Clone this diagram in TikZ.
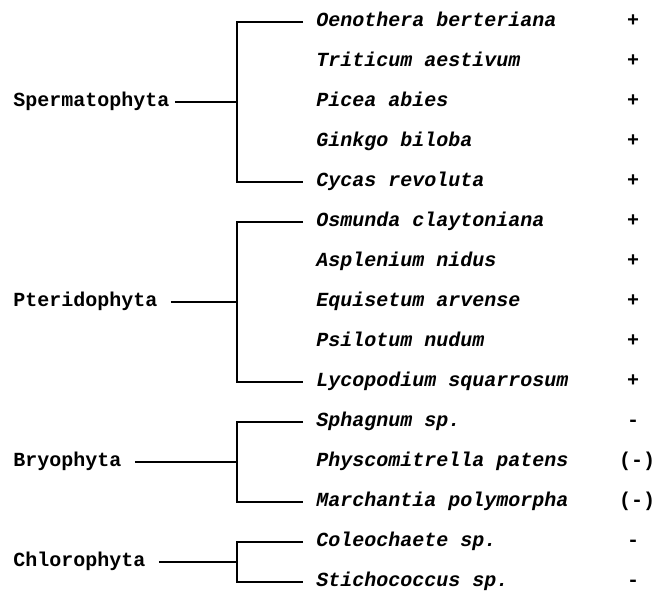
\documentclass[tikz,border=0pt]{standalone}
\usepackage{fontspec}
\setmonofont{Liberation Mono}
\usepackage{tikz}

\begin{document}
\begin{tikzpicture}[x=0.5pt,y=-0.5pt,
  every node/.style={font=\ttfamily\bfseries\fontsize{10}{12}\selectfont},
  taxon/.style={anchor=west,text height=1ex,text depth=0pt,inner xsep=6.5pt,inner ysep=0pt},
  species/.style={taxon,font=\ttfamily\bfseries\itshape\fontsize{10}{12}\selectfont},
  sign/.style={text height=1ex,text depth=0pt,inner sep=0pt},
  branch/.style={line width=0.9pt}]
\useasboundingbox (0,0) rectangle (667,590);
% groups
\node[taxon] (sperm) at (0,102) {Spermatophyta};
\node[taxon] (pterid) at (0,302) {Pteridophyta};
\node[taxon] (bryo) at (0,462) {Bryophyta};
\node[taxon] (chloro) at (0,562) {Chlorophyta};
\coordinate (spermJoin) at (237,102);
\coordinate (pteridJoin) at (237,302);
\coordinate (bryoJoin) at (237,462);
\coordinate (chloroJoin) at (237,562);
% species and signs
\node[species] (sp1) at (303,22) {Oenothera berteriana};   \node[sign] (s1) at (633,22) {+};
\node[species] (sp2) at (303,62) {Triticum aestivum};      \node[sign] (s2) at (633,62) {+};
\node[species] (sp3) at (303,102) {Picea abies};           \node[sign] (s3) at (633,102) {+};
\node[species] (sp4) at (303,142) {Ginkgo biloba};         \node[sign] (s4) at (633,142) {+};
\node[species] (sp5) at (303,182) {Cycas revoluta};        \node[sign] (s5) at (633,182) {+};
\node[species] (sp6) at (303,222) {Osmunda claytoniana};   \node[sign] (s6) at (633,222) {+};
\node[species] (sp7) at (303,262) {Asplenium nidus};       \node[sign] (s7) at (633,262) {+};
\node[species] (sp8) at (303,302) {Equisetum arvense};     \node[sign] (s8) at (633,302) {+};
\node[species] (sp9) at (303,342) {Psilotum nudum};        \node[sign] (s9) at (633,342) {+};
\node[species] (sp10) at (303,382) {Lycopodium squarrosum}; \node[sign] (s10) at (633,382) {+};
\node[species] (sp11) at (303,422) {Sphagnum sp.};         \node[sign] (s11) at (633,422) {-};
\node[species] (sp12) at (303,462) {Physcomitrella patens}; \node[sign] (s12) at (637,462) {(-)};
\node[species] (sp13) at (303,502) {Marchantia polymorpha}; \node[sign] (s13) at (637,502) {(-)};
\node[species] (sp14) at (303,542) {Coleochaete sp.};      \node[sign] (s14) at (633,542) {-};
\node[species] (sp15) at (303,582) {Stichococcus sp.};     \node[sign] (s15) at (633,582) {-};
% brackets
\draw[branch,shorten <=-4pt] (sperm.east) -- (spermJoin);
\draw[branch] (sp1.west) -| (spermJoin) |- (sp5.west);
\draw[branch] (pterid.east) -- (pteridJoin);
\draw[branch] (sp6.west) -| (pteridJoin) |- (sp10.west);
\draw[branch] (bryo.east) -- (bryoJoin);
\draw[branch] (sp11.west) -| (bryoJoin) |- (sp13.west);
\draw[branch] (chloro.east) -- (chloroJoin);
\draw[branch] (sp14.west) -| (chloroJoin) |- (sp15.west);
\end{tikzpicture}
\end{document}
